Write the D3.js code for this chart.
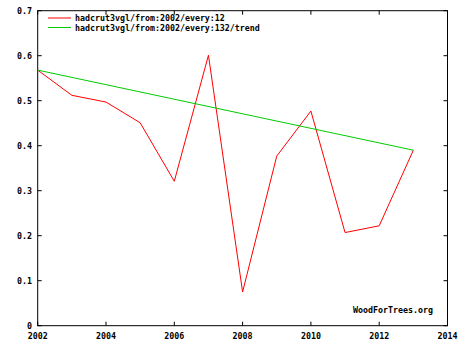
<!DOCTYPE html>
<html><head><meta charset="utf-8">
<script src="https://cdn.jsdelivr.net/npm/d3@7"></script>
<style>
html,body{margin:0;padding:0;background:#fff;}
text{font-family:"DejaVu Sans Mono","Liberation Mono",monospace;font-weight:bold;font-size:8.3px;fill:#000;}
</style></head>
<body>
<svg id="c" width="460" height="345"></svg>
<script>
const years = [2002,2003,2004,2005,2006,2007,2008,2009,2010,2011,2012,2013];
const values = [0.568,0.512,0.497,0.451,0.321,0.601,0.075,0.377,0.477,0.207,0.222,0.390];
const trendYears = [2002,2013];
const trendValues = [0.568,0.390];
const xTicks = [2002,2004,2006,2008,2010,2012,2014];
const yTicks = [0,0.1,0.2,0.3,0.4,0.5,0.6,0.7];
const seriesNames = ["hadcrut3vgl/from:2002/every:12","hadcrut3vgl/from:2002/every:132/trend"];
const credit = "WoodForTrees.org";

const svg = d3.select("#c");
const L=37.7,R=447.5,T=10.7,B=325.7;
const x = d3.scaleLinear().domain([2002,2014]).range([L,R]);
const y = d3.scaleLinear().domain([0,0.7]).range([B,T]);

// ticks inward on all sides
const tl=4;
const g = svg.append("g");
xTicks.forEach(t=>{
  g.append("line").attr("x1",x(t)).attr("x2",x(t)).attr("y1",B).attr("y2",B-tl).attr("stroke","#000");
  g.append("line").attr("x1",x(t)).attr("x2",x(t)).attr("y1",T).attr("y2",T+tl).attr("stroke","#000");
  g.append("text").attr("x",x(t)).attr("y",339).attr("text-anchor","middle").text(t);
});
yTicks.forEach(t=>{
  g.append("line").attr("x1",L).attr("x2",L+tl).attr("y1",y(t)).attr("y2",y(t)).attr("stroke","#000");
  g.append("line").attr("x1",R).attr("x2",R-tl).attr("y1",y(t)).attr("y2",y(t)).attr("stroke","#000");
  g.append("text").attr("x",32).attr("y",y(t)+3).attr("text-anchor","end").text(t===0?"0":d3.format(".1f")(t));
});
svg.append("rect").attr("x",L).attr("y",T).attr("width",R-L).attr("height",B-T).attr("fill","none").attr("stroke","#000");

const line = d3.line().x(d=>x(d[0])).y(d=>y(d[1]));
svg.append("path").datum(d3.zip(years,values)).attr("d",line).attr("fill","none").attr("stroke","#ff0000").attr("stroke-width",1);
svg.append("path").datum(d3.zip(trendYears,trendValues)).attr("d",line).attr("fill","none").attr("stroke","#00cc00").attr("stroke-width",1);

// legend
const colors=["#ff0000","#00cc00"];
seriesNames.forEach((n,i)=>{
  const ly = 18+i*9.5;
  svg.append("line").attr("x1",48).attr("x2",71).attr("y1",ly).attr("y2",ly).attr("stroke",colors[i]);
  svg.append("text").attr("x",75).attr("y",ly+3).text(n);
});
svg.append("text").attr("x",353).attr("y",313).text(credit);
</script>
</body></html>
